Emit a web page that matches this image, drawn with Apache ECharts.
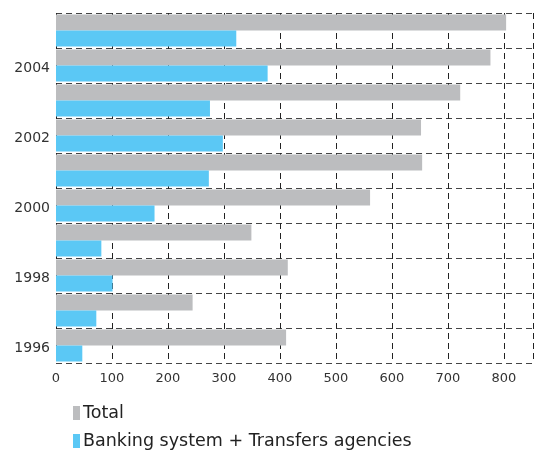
<!DOCTYPE html>
<html>
<head>
<meta charset="utf-8">
<script src="https://cdn.jsdelivr.net/npm/echarts@6/dist/echarts.min.js"></script>
<style>
  html, body { margin: 0; padding: 0; background: #fff; }
  #chart { width: 534px; height: 450px; }
</style>
</head>
<body>
<div id="chart"></div>
<script>
// Years, bottom to top
const years = ['1996', '1997', '1998', '1999', '2000', '2001', '2002', '2003', '2004', '2005'];
// Total remittances
const totalValues = [411, 244, 414, 349, 561, 654, 652, 722, 776, 804];
// Remittances through the banking system and transfer agencies
const bankingValues = [47, 72, 101, 81, 176, 273, 298, 275, 378, 322];
const xTicks = [0, 100, 200, 300, 400, 500, 600, 700, 800];
const seriesNames = ['Total', 'Banking system + Transfers agencies'];

const font = 'DejaVu Sans';
const gridDash = { type: [6, 4], width: 1 };

// one legend row per series, stacked under the plot
function legendRow(name, top) {
  return {
    orient: 'horizontal',
    left: 73,
    top: top,
    padding: 0,
    itemWidth: 7,
    itemHeight: 14,
    icon: 'rect',
    textStyle: { fontSize: 17.5, color: '#222', fontFamily: font, padding: [0, 0, 0, -2] },
    data: [name]
  };
}

const chart = echarts.init(document.getElementById('chart'));
chart.setOption({
  animation: false,
  textStyle: { fontFamily: font },
  grid: { left: 56, right: 1, top: 13, bottom: 87, containLabel: false },
  legend: [legendRow(seriesNames[0], 404), legendRow(seriesNames[1], 432)],
  xAxis: {
    type: 'value',
    min: 0,
    max: 852,
    interval: 100,
    axisLine: { show: false },
    axisTick: { show: false },
    axisLabel: {
      fontSize: 13, color: '#333', fontFamily: font, margin: 9,
      showMaxLabel: false,
      formatter: v => (xTicks.indexOf(v) >= 0 ? String(v) : '')
    },
    splitLine: { show: true, lineStyle: Object.assign({ color: '#222' }, gridDash) }
  },
  yAxis: {
    type: 'category',
    data: years,
    axisLine: { show: false },
    axisTick: { show: false },
    axisLabel: {
      interval: 1, color: '#333', fontFamily: font, margin: 6,
      formatter: v => '{y|' + v + '}',
      rich: { y: { fontSize: 14, color: '#333', fontFamily: font, padding: [6, 0, 0, 0] } }
    },
    splitLine: { show: true, interval: 0, lineStyle: Object.assign({ color: '#444' }, gridDash) }
  },
  series: [
    {
      name: seriesNames[0],
      type: 'bar',
      data: totalValues,
      barWidth: 16,
      barGap: '0%',
      itemStyle: { color: '#BCBDBF' }
    },
    {
      name: seriesNames[1],
      type: 'bar',
      data: bankingValues,
      barWidth: 16,
      barGap: '0%',
      itemStyle: { color: '#5BC8F5' }
    }
  ]
});
</script>
</body>
</html>
